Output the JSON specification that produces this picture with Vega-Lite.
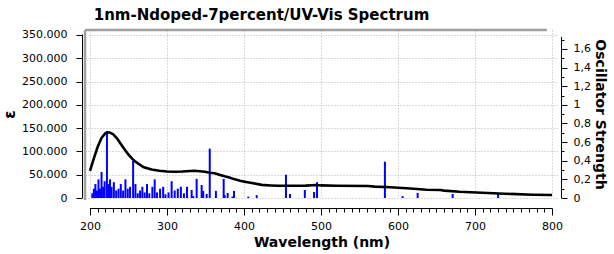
{
  "$schema": "https://vega.github.io/schema/vega-lite/v6.json",
  "width": 473,
  "height": 168,
  "autosize": {"type": "none"},
  "padding": {"left": 85, "top": 30, "right": 56, "bottom": 56},
  "background": "white",
  "config": {"view": {"stroke": null}, "font": "DejaVu Sans"},
  "title": {"text": "1nm-Ndoped-7percent/UV-Vis Spectrum", "font": "DejaVu Sans", "fontSize": 15, "fontWeight": "bold", "color": "black", "anchor": "middle", "dx": -60, "offset": 6},
  "datasets": {
    "spectrum": [
      {"nm": 200, "eps": 58000}, {"nm": 205, "eps": 85000}, {"nm": 210, "eps": 110000}, {"nm": 215, "eps": 129000},
      {"nm": 220, "eps": 139000}, {"nm": 225, "eps": 141000}, {"nm": 230, "eps": 137000}, {"nm": 235, "eps": 128000},
      {"nm": 240, "eps": 116000}, {"nm": 245, "eps": 104000}, {"nm": 250, "eps": 93000}, {"nm": 255, "eps": 84000},
      {"nm": 260, "eps": 77000}, {"nm": 265, "eps": 71000}, {"nm": 270, "eps": 66000}, {"nm": 280, "eps": 61000},
      {"nm": 290, "eps": 58500}, {"nm": 300, "eps": 57000}, {"nm": 310, "eps": 56500}, {"nm": 320, "eps": 57000},
      {"nm": 330, "eps": 58000}, {"nm": 336, "eps": 58600}, {"nm": 343, "eps": 57500}, {"nm": 349, "eps": 56400},
      {"nm": 356, "eps": 54300}, {"nm": 362, "eps": 53000}, {"nm": 369, "eps": 49400}, {"nm": 375, "eps": 46500},
      {"nm": 382, "eps": 43600}, {"nm": 388, "eps": 40000}, {"nm": 395, "eps": 37100}, {"nm": 401, "eps": 35000},
      {"nm": 412, "eps": 31500}, {"nm": 423, "eps": 28200}, {"nm": 435, "eps": 27000}, {"nm": 444, "eps": 26400},
      {"nm": 460, "eps": 26400}, {"nm": 480, "eps": 26600}, {"nm": 494, "eps": 27900}, {"nm": 500, "eps": 27000},
      {"nm": 520, "eps": 26400}, {"nm": 561, "eps": 25750}, {"nm": 570, "eps": 24500}, {"nm": 590, "eps": 23200},
      {"nm": 616, "eps": 20500}, {"nm": 637, "eps": 17800}, {"nm": 655, "eps": 17200}, {"nm": 660, "eps": 15800},
      {"nm": 680, "eps": 13500}, {"nm": 709, "eps": 11400}, {"nm": 739, "eps": 9200}, {"nm": 775, "eps": 7100},
      {"nm": 800, "eps": 6400}
    ],
    "states": [
      {"nm": 203, "f": 0.05}, {"nm": 205, "f": 0.1}, {"nm": 207, "f": 0.15}, {"nm": 209, "f": 0.08},
      {"nm": 211, "f": 0.2}, {"nm": 213, "f": 0.1}, {"nm": 215, "f": 0.28}, {"nm": 217, "f": 0.12},
      {"nm": 219, "f": 0.18}, {"nm": 222, "f": 0.72}, {"nm": 224, "f": 0.15}, {"nm": 226, "f": 0.2},
      {"nm": 228, "f": 0.12}, {"nm": 231, "f": 0.17}, {"nm": 234, "f": 0.08}, {"nm": 237, "f": 0.1},
      {"nm": 240, "f": 0.15}, {"nm": 243, "f": 0.08}, {"nm": 246, "f": 0.2}, {"nm": 249, "f": 0.1},
      {"nm": 252, "f": 0.12}, {"nm": 256, "f": 0.4}, {"nm": 259, "f": 0.15}, {"nm": 262, "f": 0.05},
      {"nm": 265, "f": 0.08}, {"nm": 268, "f": 0.12}, {"nm": 271, "f": 0.06}, {"nm": 274, "f": 0.15},
      {"nm": 277, "f": 0.05}, {"nm": 281, "f": 0.12}, {"nm": 284, "f": 0.2}, {"nm": 287, "f": 0.06},
      {"nm": 291, "f": 0.1}, {"nm": 295, "f": 0.12}, {"nm": 298, "f": 0.04}, {"nm": 302, "f": 0.06},
      {"nm": 306, "f": 0.18}, {"nm": 310, "f": 0.08}, {"nm": 314, "f": 0.1}, {"nm": 318, "f": 0.12},
      {"nm": 322, "f": 0.05}, {"nm": 326, "f": 0.12},
      {"nm": 332, "f": 0.086}, {"nm": 334, "f": 0.02}, {"nm": 338.5, "f": 0.205}, {"nm": 345, "f": 0.14},
      {"nm": 347, "f": 0.076}, {"nm": 351.5, "f": 0.043}, {"nm": 355.5, "f": 0.53}, {"nm": 363.5, "f": 0.076},
      {"nm": 373.6, "f": 0.205}, {"nm": 375, "f": 0.03}, {"nm": 378.8, "f": 0.054}, {"nm": 385, "f": 0.015},
      {"nm": 387, "f": 0.076}, {"nm": 405.6, "f": 0.015}, {"nm": 416.5, "f": 0.03}, {"nm": 454.5, "f": 0.25},
      {"nm": 459.7, "f": 0.043}, {"nm": 479, "f": 0.086}, {"nm": 491, "f": 0.065}, {"nm": 494.8, "f": 0.17},
      {"nm": 583, "f": 0.39}, {"nm": 606, "f": 0.02}, {"nm": 625.5, "f": 0.055}, {"nm": 671, "f": 0.043},
      {"nm": 730, "f": 0.043}
    ]
  },
  "layer": [
    {
      "data": {"name": "states"},
      "mark": {"type": "rule", "color": "#0000ff", "strokeWidth": 2},
      "encoding": {
        "x": {"field": "nm", "type": "quantitative", "scale": {"domain": [193.5, 807.8], "nice": false, "zero": false}, "axis": null},
        "y": {
          "field": "f", "type": "quantitative",
          "scale": {"domain": [0, 1.804], "nice": false, "zero": false},
          "axis": {
            "orient": "right", "offset": 3, "title": "Oscillator Strength", "titleAngle": 90,
            "titleFont": "DejaVu Sans", "titleFontSize": 14, "titleFontWeight": "bold", "titleColor": "black", "titlePadding": 2,
            "values": [0, 0.1, 0.2, 0.3, 0.4, 0.5, 0.6, 0.7, 0.8, 0.9, 1, 1.1, 1.2, 1.3, 1.4, 1.5, 1.6, 1.7],
            "labelExpr": "round(datum.value*10) % 2 === 0 ? replace('' + round(datum.value*10)/10, '.', ',') : ''",
            "tickSize": {"condition": {"test": "round(datum.value*10) % 2 === 0", "value": 6}, "value": 3},
            "labelFont": "DejaVu Sans", "labelFontSize": 11, "labelColor": "black", "labelPadding": 6,
            "labelOverlap": false, "labelFlush": false, "tickColor": "black", "domain": false, "grid": false
          }
        },
        "y2": {"datum": 0}
      }
    },
    {
      "data": {"name": "spectrum"},
      "mark": {"type": "line", "color": "black", "strokeWidth": 2.6},
      "encoding": {
        "x": {
          "field": "nm", "type": "quantitative",
          "scale": {"domain": [193.5, 807.8], "nice": false, "zero": false},
          "axis": {
            "values": [200,210,220,230,240,250,260,270,280,290,300,310,320,330,340,350,360,370,380,390,400,410,420,430,440,450,460,470,480,490,500,510,520,530,540,550,560,570,580,590,600,610,620,630,640,650,660,670,680,690,700,710,720,730,740,750,760,770,780,790,800],
            "offset": 10, "title": "Wavelength (nm)", "titleFont": "DejaVu Sans", "titleFontSize": 14,
            "titleFontWeight": "bold", "titleColor": "black", "titlePadding": 4,
            "labelExpr": "datum.value % 100 === 0 ? datum.label : ''",
            "tickSize": {"condition": {"test": "datum.value % 100 === 0", "value": 7}, "value": 4},
            "labelFont": "DejaVu Sans", "labelFontSize": 11, "labelColor": "black", "labelPadding": 5,
            "labelOverlap": false, "labelFlush": false, "tickColor": "black", "domain": false,
            "grid": true, "gridColor": "#b4b4b4", "gridDash": [1, 2],
            "gridOpacity": {"condition": {"test": "datum.value % 100 === 0", "value": 1}, "value": 0}
          }
        },
        "y": {
          "field": "eps", "type": "quantitative",
          "scale": {"domain": [0, 360700], "nice": false, "zero": false},
          "axis": {
            "orient": "left", "offset": 3, "title": "ε", "titleFont": "DejaVu Sans", "titleFontSize": 15,
            "titleFontWeight": "bold", "titleColor": "black", "titlePadding": 4,
            "values": [0, 50000, 100000, 150000, 200000, 250000, 300000, 350000],
            "labelExpr": "replace(format(datum.value, ','), ',', '.')",
            "labelFont": "DejaVu Sans", "labelFontSize": 11, "labelColor": "black", "labelPadding": 9,
            "tickSize": 6, "tickColor": "black", "domain": false, "labelOverlap": false, "labelFlush": false,
            "grid": true, "gridColor": "#b4b4b4", "gridDash": [1, 2]
          }
        }
      }
    },
    {
      "data": {"values": [{}]},
      "mark": {"type": "rule", "color": "#a0a0a0", "strokeWidth": 2.5},
      "encoding": {
        "x": {"datum": 193.5, "type": "quantitative", "scale": {"domain": [193.5, 807.8], "nice": false, "zero": false}, "axis": null},
        "x2": {"datum": 793.5},
        "y": {"datum": 360700, "type": "quantitative", "scale": {"domain": [0, 360700], "nice": false, "zero": false}, "axis": null}
      }
    },
    {
      "data": {"values": [{}]},
      "mark": {"type": "rule", "color": "#a0a0a0", "strokeWidth": 2.5},
      "encoding": {
        "x": {"datum": 193.5, "type": "quantitative", "scale": {"domain": [193.5, 807.8], "nice": false, "zero": false}, "axis": null},
        "y": {"datum": -4300, "type": "quantitative", "scale": {"domain": [0, 360700], "nice": false, "zero": false}, "axis": null},
        "y2": {"datum": 360700}
      }
    },
    {
      "data": {"values": [{}]},
      "mark": {"type": "rule", "color": "black", "strokeWidth": 1},
      "encoding": {
        "x": {"datum": 200, "type": "quantitative", "scale": {"domain": [193.5, 807.8], "nice": false, "zero": false}, "axis": null},
        "x2": {"datum": 800.6},
        "y": {"datum": -22544, "type": "quantitative", "scale": {"domain": [0, 360700], "nice": false, "zero": false}, "axis": null}
      }
    },
    {
      "data": {"values": [{}]},
      "mark": {"type": "rule", "color": "black", "strokeWidth": 1},
      "encoding": {
        "x": {"datum": 190.25, "type": "quantitative", "scale": {"domain": [193.5, 807.8], "nice": false, "zero": false}, "axis": null},
        "y": {"datum": 0, "type": "quantitative", "scale": {"domain": [0, 360700], "nice": false, "zero": false}, "axis": null},
        "y2": {"datum": 351100}
      }
    },
    {
      "data": {"values": [{}]},
      "mark": {"type": "rule", "color": "black", "strokeWidth": 1},
      "encoding": {
        "x": {"datum": 812.33, "type": "quantitative", "scale": {"domain": [193.5, 807.8], "nice": false, "zero": false}, "axis": null},
        "y": {"datum": 0, "type": "quantitative", "scale": {"domain": [0, 360700], "nice": false, "zero": false}, "axis": null},
        "y2": {"datum": 345900}
      }
    }
  ],
  "resolve": {"scale": {"x": "independent", "y": "independent"}}
}
